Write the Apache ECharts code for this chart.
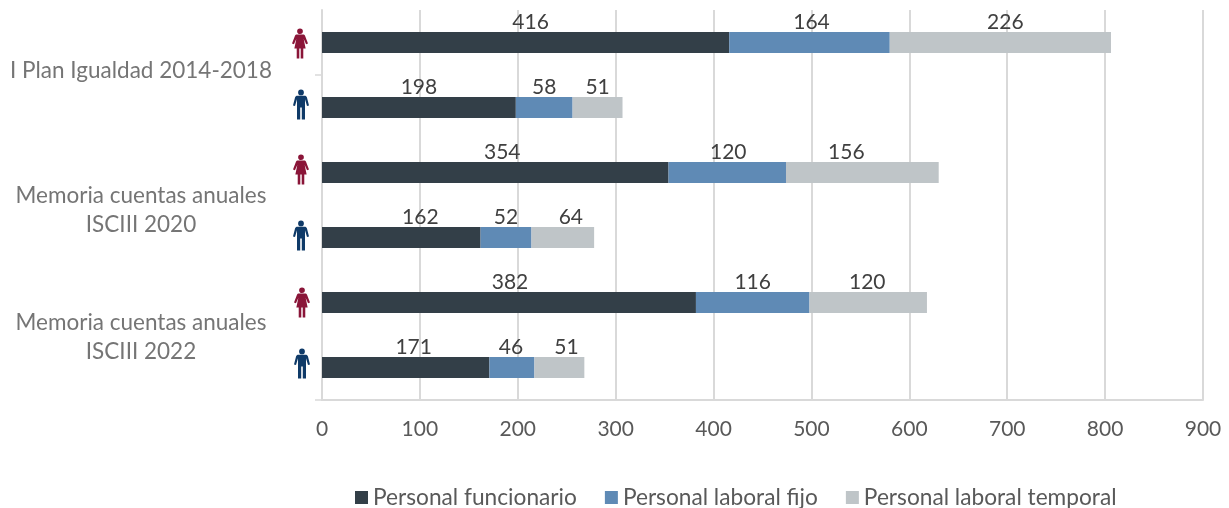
<!DOCTYPE html>
<html><head><meta charset="utf-8">
<style>html,body{margin:0;padding:0;background:#fff}#c{width:1229px;height:508px}</style>
<script src="https://cdn.jsdelivr.net/npm/echarts@6/dist/echarts.min.js"></script>
</head><body><div id="c"></div>
<script>
const rows = ['I Plan Mujeres','I Plan Hombres','2020 Mujeres','2020 Hombres','2022 Mujeres','2022 Hombres'];
const groups = ['I Plan Igualdad 2014-2018','Memoria cuentas anuales\nISCIII 2020','Memoria cuentas anuales\nISCIII 2022'];
const funcionario = [416,198,354,162,382,171];
const fijo = [164,58,120,52,116,46];
const temporal = [226,51,156,64,120,51];
const gender = ['f','m','f','m','f','m'];

// hand-placed label shifts of the original, in px
const nudgeFuncionario = [5,0,7,19,1,8];
const nudgeFijo = [2,0,1,0,0,-1];
const nudgeTemporal = [5,0,-16,8,-1,7];
const iconShiftX = [-1,0,0,0,1,1];
const iconShiftY = [1,-3,-3,-2,0,-4];

const WOMAN = 'M8 0a2.8 2.8 0 1 1-.01 0ZM5.000 6h6c.9 0 1.600.5 1.900 1.300L15.800 15l-1.900.8-2.300-5.200 1.900 9.400h-2.300v10H8.700V20H7.300v10H4.800V20H2.500l1.900-9.400-2.300 5.200L.2 15l2.900-7.700C3.400 6.500 4.100 6 5 6Z';
const MAN = 'M8 0a2.900 2.900 0 1 1-.01 0ZM4.400 6.200h7.200c1.200 0 2 .6 2.300 1.600L16 16l-2 .6-2-6.800V30H8.800V18H7.200v12H4V9.800l-2 6.800L0 16l2.100-8.200c.3-1 1.100-1.600 2.300-1.600Z';
const ICON_COLOR = {f:'#8a1538', m:'#0f3a68'};

const FONT = 'Lato';
const groupText = {color:'#757575', fontSize:22.5, fontFamily:FONT, lineHeight:29};
const chart = echarts.init(document.getElementById('c'));
function bar(name, values, nudges, color){
  return {name, type:'bar', stack:'s', yAxisIndex:0, barWidth:21, itemStyle:{color}, emphasis:{disabled:true},
    data: values.map((v,i)=>({value:v, label:{offset:[nudges[i],1]}})),
    label:{show:true, position:'top', distance:0, color:'#404040', fontSize:21, fontFamily:FONT}};
}
chart.setOption({
  animation:false,
  textStyle:{fontFamily:FONT},
  grid:{left:322,right:26,top:10,bottom:108,containLabel:false,outerBoundsMode:'none'},
  legend:{
    data:['Personal funcionario','Personal laboral fijo','Personal laboral temporal'],
    left:350, top:481, icon:'rect', itemWidth:13, itemHeight:13, itemGap:28,
    textStyle:{color:'#595959', fontSize:22.7, fontFamily:FONT}
  },
  xAxis:{type:'value', min:0, max:900, interval:100,
    axisLine:{show:true, onZero:false, lineStyle:{color:'#d9d9d9', width:2}}, axisTick:{show:false},
    axisLabel:{color:'#595959', fontSize:21, margin:19, fontFamily:FONT},
    splitLine:{show:true, lineStyle:{color:'#d9d9d9', width:2}}},
  yAxis:[
    {type:'category', inverse:true, data:rows, axisLabel:{show:false}, axisTick:{show:false},
     axisLine:{show:true, lineStyle:{color:'#d9d9d9', width:2}}, splitLine:{show:false}},
    {type:'category', inverse:true, position:'left', data:groups,
     axisLine:{show:false}, axisTick:{show:false}, splitLine:{show:false},
     axisLabel:{margin:181, align:'center',
       formatter:(v,i)=>v.split('\n').map(s=>`{g${i}|${s}}`).join('\n'),
       rich:{
         g0:{...groupText, padding:[0,0,8,0]},
         g1:{...groupText, padding:[10,0,0,0]},
         g2:{...groupText, padding:[4,0,0,0]}
       }}},
    {type:'value', inverse:true, position:'left', min:0, max:6, interval:1,
     axisLine:{show:false}, axisLabel:{show:false}, splitLine:{show:false},
     axisTick:{show:true, length:7, customValues:[1,6], lineStyle:{color:'#d9d9d9', width:1.5}}}
  ],
  series:[
    bar('Personal funcionario', funcionario, nudgeFuncionario, '#333f48'),
    bar('Personal laboral fijo', fijo, nudgeFijo, '#5f8ab5'),
    bar('Personal laboral temporal', temporal, nudgeTemporal, '#bfc5c8'),
    {type:'custom', name:'iconos', yAxisIndex:0, silent:true, z:5,
     data:gender.map((g,i)=>[0,i]),
     renderItem(params, api){
       const p = api.coord([api.value(0), api.value(1)]);
       const i = params.dataIndex, g = gender[i];
       return {type:'path', shape:{pathData:g==='f'?WOMAN:MAN, x:p[0]-29+iconShiftX[i], y:p[1]-15+iconShiftY[i], width:16, height:30, layout:'cover'},
               style:{fill:ICON_COLOR[g]}};
     }}
  ]
});
</script></body></html>
